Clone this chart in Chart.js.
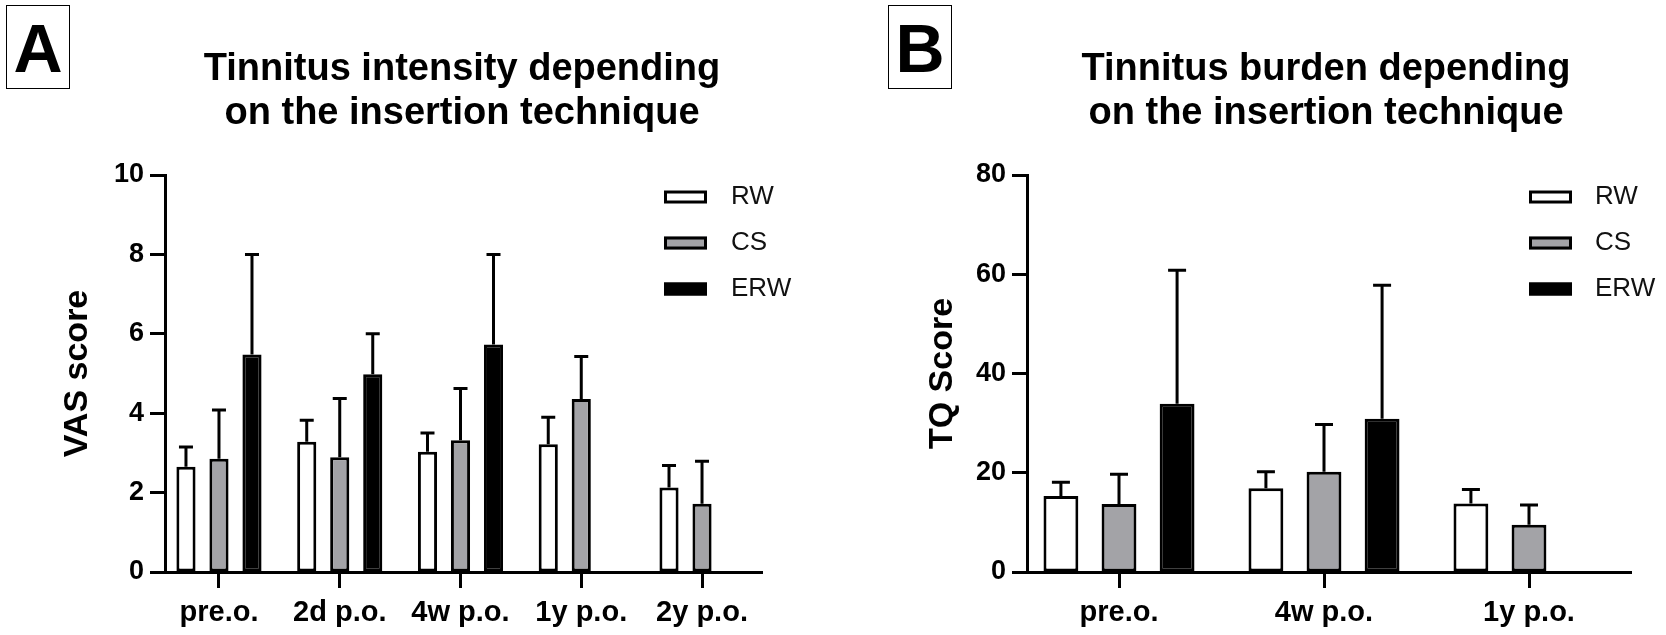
<!DOCTYPE html>
<html>
<head>
<meta charset="utf-8">
<script src="https://cdn.jsdelivr.net/npm/chart.js@4.4.1/dist/chart.umd.min.js"></script>
<style>
  html, body { margin: 0; padding: 0; background: #fff; }
  body { width: 1666px; height: 635px; position: relative; overflow: hidden; font-family: 'Liberation Sans', Arial, sans-serif; }
  .panel { position: absolute; top: 0; width: 833px; height: 635px; }
  .tag { position: absolute; top: 5px; width: 64px; height: 84px; border: 1.5px solid #000; box-sizing: border-box;
         font-weight: bold; font-size: 68px; line-height: 84px; text-align: center; color: #000; }
</style>
</head>
<body>
<div class="panel" style="left:0"><canvas id="chartA" width="833" height="635"></canvas></div>
<div class="panel" style="left:833px"><canvas id="chartB" width="833" height="635"></canvas></div>
<div class="tag" style="left:6px">A</div>
<div class="tag" style="left:888px">B</div>
<script>
// ---------- Data: panel A (VAS score) ----------
const categoriesA = ['pre.o.', '2d p.o.', '4w p.o.', '1y p.o.', '2y p.o.'];
const RW_A  = [2.65, 3.28, 3.03, 3.22, 2.13];
const CS_A  = [2.85, 2.89, 3.32, 4.36, 1.72];
const ERW_A = [5.48, 4.98, 5.73, null, null];
const RW_A_err  = [0.50, 0.54, 0.47, 0.68, 0.55];
const CS_A_err  = [1.23, 1.48, 1.30, 1.07, 1.07];
const ERW_A_err = [2.52, 1.02, 2.27, null, null];
const ticksA = [0, 2, 4, 6, 8, 10];

// ---------- Data: panel B (TQ score) ----------
const categoriesB = ['pre.o.', '4w p.o.', '1y p.o.'];
const RW_B  = [15.3, 16.9, 13.8];
const CS_B  = [13.7, 20.2, 9.5];
const ERW_B = [33.9, 30.9, null];
const RW_B_err  = [2.8, 3.3, 2.8];
const CS_B_err  = [6.0, 9.5, 4.0];
const ERW_B_err = [26.9, 26.9, null];
const ticksB = [0, 20, 40, 60, 80];

const seriesNames = ['RW', 'CS', 'ERW'];

const FONT = "'Liberation Sans', Arial, Helvetica, sans-serif";
const FILLS = ['#ffffff', '#a3a3a7', '#000000'];

// Error bars (upper only), drawn through the y scale
const errorBarPlugin = {
  id: 'errorBars',
  afterDatasetsDraw(chart, args, opts) {
    const ctx = chart.ctx;
    const yScale = chart.scales.y;
    chart.data.datasets.forEach((ds, i) => {
      if (!ds.errorBars) return;
      const meta = chart.getDatasetMeta(i);
      meta.data.forEach((bar, j) => {
        const v = ds.data[j], e = ds.errorBars[j];
        if (v == null || e == null) return;
        const x = bar.x;
        const y0 = yScale.getPixelForValue(v);
        const y1 = yScale.getPixelForValue(v + e);
        ctx.save();
        ctx.strokeStyle = '#000';
        ctx.lineWidth = opts.lineWidth;
        ctx.lineCap = 'butt';
        ctx.beginPath();
        ctx.moveTo(x, y0);
        ctx.lineTo(x, y1 - opts.lineWidth / 2);
        ctx.moveTo(x - opts.capWidth / 2, y1);
        ctx.lineTo(x + opts.capWidth / 2, y1);
        ctx.stroke();
        ctx.restore();
      });
    });
  }
};

// Category axis span slightly wider than the plot frame (as in the original figure)
const xSpanPlugin = {
  id: 'xSpan',
  afterLayout(chart, args, opts) {
    const x = chart.scales.x;
    x.left = opts.left;
    x.right = opts.right;
    x.width = opts.right - opts.left;
    x.configure();
  }
};

// Legend drawn inside the plot area, top-right
const boxLegendPlugin = {
  id: 'boxLegend',
  afterDraw(chart, args, o) {
    const { ctx, chartArea } = chart;
    chart.data.datasets.forEach((ds, i) => {
      const cy = chartArea.top + o.firstY + i * o.spacing;
      const bx = chartArea.right + o.boxX;
      ctx.save();
      ctx.fillStyle = ds.backgroundColor;
      ctx.fillRect(bx, cy - o.boxH / 2, o.boxW, o.boxH);
      ctx.lineWidth = 3;
      ctx.strokeStyle = '#000';
      ctx.strokeRect(bx + 1.5, cy - o.boxH / 2 + 1.5, o.boxW - 3, o.boxH - 3);
      ctx.fillStyle = '#111';
      ctx.font = o.fontSize + 'px ' + FONT;
      ctx.textBaseline = 'middle';
      ctx.textAlign = 'left';
      ctx.fillText(ds.label, chartArea.right + o.textX, cy);
      ctx.restore();
    });
  }
};

function makeDatasets(values, errs, catPct, barPct) {
  return values.map((vals, i) => ({
    label: seriesNames[i],
    data: vals,
    errorBars: errs[i],
    backgroundColor: FILLS[i],
    borderColor: '#000',
    borderWidth: 3,
    borderSkipped: false,
    categoryPercentage: catPct,
    barPercentage: barPct
  }));
}

function makeChart(id, cfg) {
  return new Chart(document.getElementById(id), {
    type: 'bar',
    data: {
      labels: cfg.labels,
      datasets: makeDatasets(cfg.values, cfg.errs, cfg.catPct, cfg.barPct)
    },
    options: {
      responsive: false,
      animation: false,
      devicePixelRatio: 1,
      layout: { padding: { left: cfg.padLeft, right: cfg.padRight, top: 40, bottom: 0 } },
      scales: {
        x: {
          type: 'category',
          offset: true,
          grid: { display: true, offset: false, drawOnChartArea: false, drawTicks: true, tickLength: 16, tickWidth: 3, tickColor: '#000', color: '#000' },
          border: { display: true, width: 3, color: '#000' },
          ticks: { color: '#000', font: { family: FONT, size: 29, weight: 'bold' }, padding: 8, maxRotation: 0, autoSkip: false },
          afterFit(s) { s.height = 63; }
        },
        y: {
          min: 0,
          max: cfg.yMax,
          afterBuildTicks(s) { s.ticks = cfg.ticks.map(v => ({ value: v })); },
          grid: { display: true, drawOnChartArea: false, drawTicks: true, tickLength: 15, tickWidth: 3, tickColor: '#000', color: '#000' },
          border: { display: true, width: 3, color: '#000' },
          ticks: { color: '#000', font: { family: FONT, size: 27, weight: 'bold' }, padding: 6 },
          title: { display: true, text: cfg.yTitle, color: '#000', font: { family: FONT, size: 34, weight: 'bold' }, padding: { top: 7, bottom: 0 } },
          afterFit(s) { s.width = cfg.yWidth; }
        }
      },
      plugins: {
        legend: { display: false },
        tooltip: { enabled: false },
        title: {
          display: true,
          fullSize: false,
          text: cfg.title,
          color: '#000',
          font: { family: FONT, size: 38, weight: 'bold', lineHeight: 1.158 },
          padding: { top: 7.7, bottom: 39.3 }
        },
        xSpan: { left: cfg.xLeft, right: cfg.xRight },
        errorBars: { lineWidth: 3, capWidth: cfg.capWidth },
        boxLegend: { firstY: 22, spacing: 46, boxX: cfg.legendBoxX, boxW: 43, boxH: 13, textX: cfg.legendTextX, fontSize: 26 }
      }
    },
    plugins: [xSpanPlugin, errorBarPlugin, boxLegendPlugin]
  });
}

makeChart('chartA', {
  labels: categoriesA,
  values: [RW_A, CS_A, ERW_A],
  errs: [RW_A_err, CS_A_err, ERW_A_err],
  ticks: ticksA, yMax: 10,
  title: ['Tinnitus intensity depending', 'on the insertion technique'],
  yTitle: 'VAS score',
  padLeft: 50, yWidth: 115, padRight: 74,
  xLeft: 158.6, xRight: 762.4,
  catPct: 0.82, barPct: 0.58, capWidth: 14,
  legendBoxX: -95, legendTextX: -28
});

makeChart('chartB', {
  labels: categoriesB,
  values: [RW_B, CS_B, ERW_B],
  errs: [RW_B_err, CS_B_err, ERW_B_err],
  ticks: ticksB, yMax: 80,
  title: ['Tinnitus burden depending', 'on the insertion technique'],
  yTitle: 'TQ Score',
  padLeft: 82, yWidth: 112, padRight: 41,
  xLeft: 183.5, xRight: 798.5,
  catPct: 0.85, barPct: 0.6, capWidth: 18,
  legendBoxX: -96, legendTextX: -30
});
</script>
</body>
</html>
